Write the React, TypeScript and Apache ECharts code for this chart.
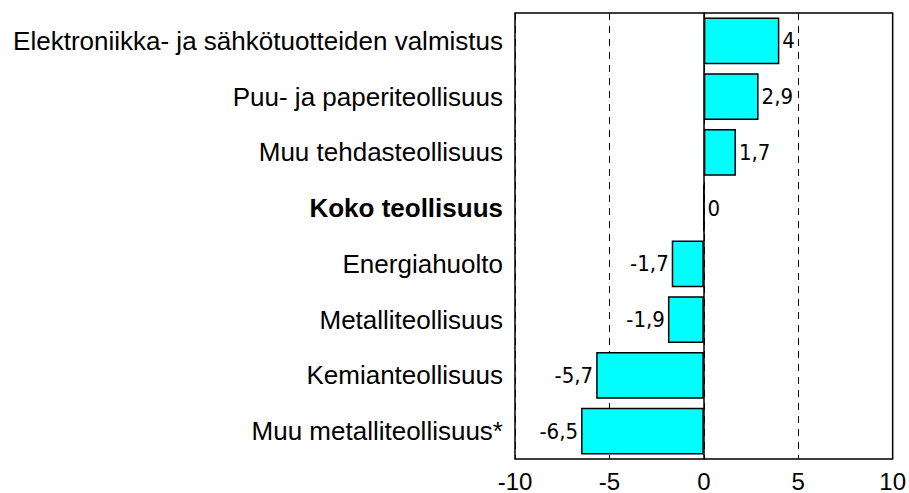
import React, { useEffect, useRef } from "react";
import * as echarts from "echarts";

const categories = [
  "Elektroniikka- ja sähkötuotteiden valmistus",
  "Puu- ja paperiteollisuus",
  "Muu tehdasteollisuus",
  "Koko teollisuus",
  "Energiahuolto",
  "Metalliteollisuus",
  "Kemianteollisuus",
  "Muu metalliteollisuus*",
];
const values = [4, 2.9, 1.7, 0, -1.7, -1.9, -5.7, -6.5];
const boldCategory = "Koko teollisuus";

export default function App() {
  const ref = useRef<HTMLDivElement>(null);
  useEffect(() => {
    if (!ref.current) return;
    const chart = echarts.init(ref.current, null, { renderer: "svg" });
    chart.setOption({
      animation: false,
      backgroundColor: "#ffffff",
      grid: {
        left: 515,
        right: 15,
        top: 13,
        bottom: 33,
        show: true,
        borderColor: "#000",
        borderWidth: 1.5,
        containLabel: false,
      },
      xAxis: {
        type: "value",
        min: -10,
        max: 10,
        interval: 5,
        axisLine: { show: false },
        axisTick: { show: false },
        axisLabel: {
          color: "#000",
          fontSize: 24,
          fontFamily: "Liberation Sans, Arial, sans-serif",
          margin: 10,
        },
        splitLine: {
          show: true,
          lineStyle: { color: "#000", type: [7, 6], width: 1 },
        },
      },
      yAxis: {
        type: "category",
        inverse: true,
        data: categories.map((c) =>
          c === boldCategory
            ? { value: c, textStyle: { fontWeight: "bold" } }
            : c
        ),
        axisLine: { show: true, onZero: true, lineStyle: { color: "#000", width: 1.5 } },
        axisTick: { show: false },
        axisLabel: {
          color: "#000",
          fontSize: 26,
          fontFamily: "Liberation Sans, Arial, sans-serif",
          margin: 12,
        },
        position: "left",
      },
      series: [
        {
          type: "bar",
          data: values.map((v) => ({
            value: v,
            label: { position: v < 0 ? "left" : "right" },
          })),
          barCategoryGap: "16%",
          itemStyle: { color: "#00ffff", borderColor: "#000", borderWidth: 1.5 },
          label: {
            show: true,
            color: "#000",
            fontSize: 22,
            fontFamily: "DejaVu Sans Condensed, sans-serif",
            distance: 3,
            formatter: (p: any) => String(p.value).replace(".", ","),
          },
        },
      ],
    });
    return () => chart.dispose();
  }, []);
  return <div ref={ref} style={{ width: 909, height: 493, position: "absolute", left: 0, top: 0 }} />;
}
